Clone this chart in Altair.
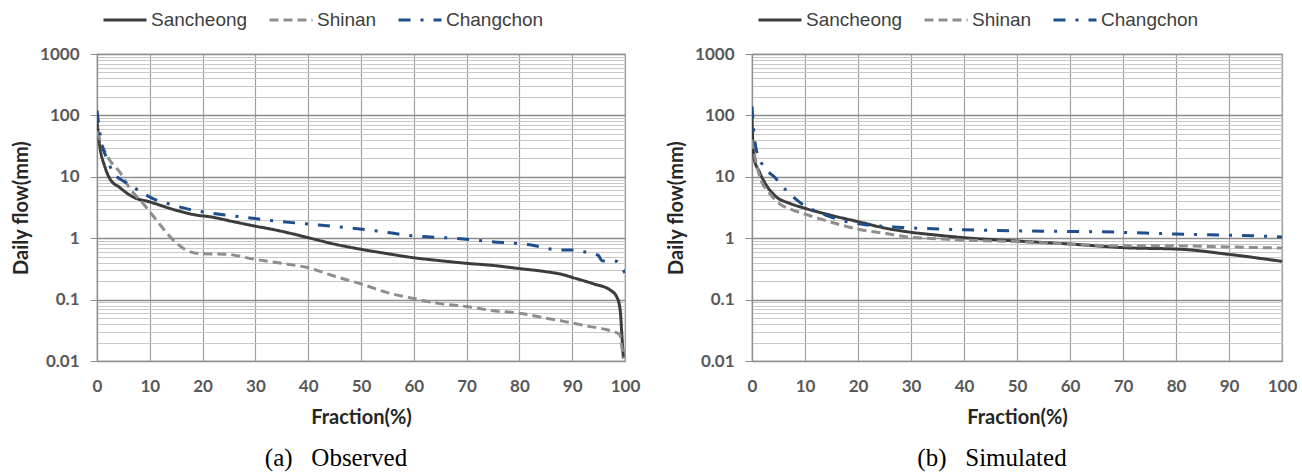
import altair as alt
import pandas as pd

# Flow duration curves: daily flow (mm) against exceedance fraction (%)
STATIONS = ["Sancheong", "Shinan", "Changchon"]
COLORS = ["#3c3c3c", "#8e8e8e", "#1f4e8d"]
DASHES = [[1, 0], [9, 5], [12, 10, 3, 10]]

# Observed
OBS_SANCHEONG_X = [0, 0.5, 1.5, 2.4, 4.3, 6.8, 10, 15, 18.8, 21.3, 25.7, 29.5, 34, 37, 40, 45,
                   50, 55, 60, 65, 70, 75, 80, 85, 88, 90.3, 94.1, 97.2, 98.5, 99.1, 99.4, 99.7]
OBS_SANCHEONG_Y = [80, 33, 14.5, 9.4, 6.7, 4.7, 3.9, 2.85, 2.38, 2.24, 1.87, 1.6, 1.35, 1.18, 1.02, 0.8,
                   0.66, 0.56, 0.48, 0.43, 0.39, 0.36, 0.32, 0.285, 0.258, 0.226, 0.18, 0.143, 0.108, 0.066, 0.027, 0.011]

OBS_SHINAN_X = [0, 0.8, 2.4, 4.3, 6.2, 8.7, 11.2, 13.7, 16.6, 19.4, 24.4, 29.5, 35, 40, 45, 50,
                55, 60, 65, 70, 75, 80, 85, 88, 92.9, 96.1, 99, 99.4, 99.8]
OBS_SHINAN_Y = [55, 35, 18.7, 12, 6.5, 3.7, 2.0, 1.09, 0.66, 0.56, 0.55, 0.46, 0.39, 0.33, 0.24, 0.18,
                0.13, 0.104, 0.086, 0.077, 0.066, 0.06, 0.05, 0.045, 0.037, 0.033, 0.027, 0.017, 0.011]

OBS_CHANGCHON_X = [0, 0.8, 1.8, 3, 5.2, 7.6, 10.5, 13.7, 17.5, 21, 24.4, 27.9, 32, 40, 42, 53,
                   60, 67.5, 74.5, 82, 87.8, 90.3, 92.3, 95, 95.6, 98.4, 99.6, 100]
OBS_CHANGCHON_Y = [120, 38, 20.5, 12, 8.3, 6.2, 4.45, 3.6, 2.95, 2.6, 2.38, 2.2, 1.98, 1.7, 1.64, 1.31,
                   1.09, 1.0, 0.88, 0.78, 0.64, 0.64, 0.6, 0.52, 0.43, 0.42, 0.31, 0.27]

# Simulated
SIM_SANCHEONG_X = [0, 0.1, 0.4, 1.4, 2.7, 4.6, 7.1, 10, 14.7, 20, 25.3, 29.1, 35, 40,
                   50, 60.4, 70.3, 81, 90.4, 100]
SIM_SANCHEONG_Y = [90, 48, 20, 12, 7.3, 4.7, 3.7, 3.07, 2.38, 1.86, 1.45, 1.28, 1.12, 1.02,
                   0.9, 0.8, 0.7, 0.66, 0.54, 0.42]

SIM_SHINAN_X = [0, 0.8, 1.7, 3.3, 5.1, 7.7, 10, 14.7, 20, 25.3, 29.1, 35, 40,
                50, 60, 70, 80, 90, 100]
SIM_SHINAN_Y = [40, 16.5, 8.8, 5.4, 3.7, 2.87, 2.47, 1.85, 1.4, 1.19, 1.05, 0.98, 0.93,
                0.88, 0.8, 0.75, 0.75, 0.72, 0.69]

SIM_CHANGCHON_X = [0, 0.4, 0.8, 2, 4.2, 6.4, 8.9, 13.9, 17.7, 22, 28.3, 40, 52, 66, 80, 95, 100]
SIM_CHANGCHON_Y = [140, 48, 28, 15.5, 10, 6.1, 3.9, 2.38, 1.87, 1.64, 1.5, 1.37, 1.31, 1.27, 1.17, 1.09, 1.05]

X_TICKS = [0, 10, 20, 30, 40, 50, 60, 70, 80, 90, 100]
Y_MAJOR = [0.01, 0.1, 1, 10, 100, 1000]
Y_GRID = [round(m * d, 6) for d in [0.01, 0.1, 1, 10, 100] for m in range(1, 10)] + [1000]

MAJOR_TEST = "indexof([0.01, 0.1, 1, 10, 100, 1000], datum.value) >= 0"
NBSP = "\u00a0"


def to_frame(series):
    rows = []
    for name, xs, ys in series:
        for x, y in zip(xs, ys):
            rows.append({"station": name, "fraction": x, "flow": y})
    return pd.DataFrame(rows)


observed = to_frame([
    ("Sancheong", OBS_SANCHEONG_X, OBS_SANCHEONG_Y),
    ("Shinan", OBS_SHINAN_X, OBS_SHINAN_Y),
    ("Changchon", OBS_CHANGCHON_X, OBS_CHANGCHON_Y),
])
simulated = to_frame([
    ("Sancheong", SIM_SANCHEONG_X, SIM_SANCHEONG_Y),
    ("Shinan", SIM_SHINAN_X, SIM_SHINAN_Y),
    ("Changchon", SIM_CHANGCHON_X, SIM_CHANGCHON_Y),
])


def panel(df, caption, width):
    legend = alt.Legend(
        title=None, orient="none", legendX=5, legendY=-57, direction="horizontal",
        symbolType="stroke", symbolSize=1849, symbolStrokeWidth=3,
        labelFont="Liberation Sans", labelFontSize=19, labelColor="#404040",
        labelOffset=3, columnPadding=15, labelLimit=0,
    )
    x_axis = alt.Axis(
        values=X_TICKS, ticks=False, title="Fraction(%)", labelFlush=False,
        labelFont="Lato", labelFontWeight="bold", labelFontSize=17, labelColor="#595959",
        labelPadding=17, titleFont="Lato", titleFontWeight="bold", titleFontSize=20,
        titleColor="#262626", titlePadding=13,
        gridColor="#a0a0a0", gridWidth=1.2, domainColor="#8f8f8f", domainWidth=1.2,
    )
    y_axis = alt.Axis(
        values=Y_GRID, labelOverlap=False, labelFlush=False,
        labelExpr=MAJOR_TEST + " ? toString(datum.value) : ''",
        title="Daily flow(mm)",
        labelFont="Lato", labelFontWeight="bold", labelFontSize=17, labelColor="#595959",
        labelPadding=11, titleFont="Lato", titleFontWeight="bold", titleFontSize=20,
        titleColor="#262626", titlePadding=8,
        tickSize=7, tickColor="#8f8f8f",
        tickOpacity={"condition": {"test": MAJOR_TEST, "value": 1}, "value": 0},
        gridColor={"condition": {"test": MAJOR_TEST, "value": "#8c8c8c"}, "value": "#c8c8c8"},
        gridWidth={"condition": {"test": MAJOR_TEST, "value": 1.4}, "value": 1},
        domainColor="#8f8f8f", domainWidth=1.2,
    )
    return alt.Chart(
        df,
        title=alt.TitleParams(
            caption, orient="bottom", anchor="middle", frame="group", dx=-25, offset=19,
            font="Liberation Serif", fontSize=25, fontWeight="normal", color="#000000",
        ),
    ).mark_line(strokeWidth=3, interpolate="monotone", clip=True).encode(
        x=alt.X("fraction:Q", scale=alt.Scale(domain=[0, 100], nice=False), axis=x_axis),
        y=alt.Y("flow:Q", scale=alt.Scale(type="log", domain=[0.01, 1000], nice=False), axis=y_axis),
        color=alt.Color("station:N", scale=alt.Scale(domain=STATIONS, range=COLORS), legend=legend),
        strokeDash=alt.StrokeDash("station:N", scale=alt.Scale(domain=STATIONS, range=DASHES), legend=legend),
    ).properties(width=width, height=307)


chart = alt.hconcat(
    panel(observed, "(a)" + NBSP * 3 + "Observed", 528),
    panel(simulated, "(b)" + NBSP * 3 + "Simulated", 530),
    spacing=24,
).resolve_scale(
    color="independent", strokeDash="independent"
).properties(
    padding={"left": 10, "top": -4, "right": 2, "bottom": 0},
    background="white",
).configure_view(stroke="#8f8f8f", strokeWidth=1.2)

chart.save("out.html", embed_options={"renderer": "svg", "actions": False})
